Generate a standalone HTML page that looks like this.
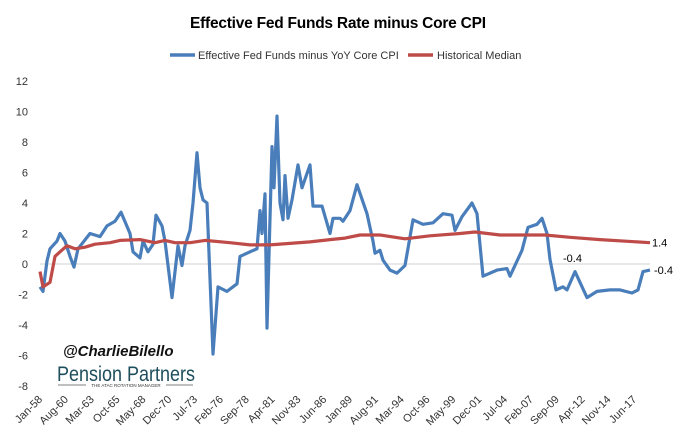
<!DOCTYPE html>
<html><head><meta charset="utf-8"><style>
body{margin:0;background:#fff;}
svg{display:block;font-family:"Liberation Sans",sans-serif;}
</style></head><body>
<svg id="chart" width="676" height="436">
<text x="338" y="28" text-anchor="middle" font-size="15.5" font-weight="bold" fill="#000" textLength="296">Effective Fed Funds Rate minus Core CPI</text>
<g>
<line x1="170" y1="55" x2="195" y2="55" stroke="#4a7ebb" stroke-width="3.5"/>
<text x="198" y="59" font-size="11" fill="#333">Effective Fed Funds minus YoY Core CPI</text>
<line x1="408" y1="55" x2="433" y2="55" stroke="#be4b48" stroke-width="3.5"/>
<text x="437" y="59" font-size="11" fill="#333">Historical Median</text>
</g>
<g id="yaxis"></g>
<g id="xaxis"></g>
<g id="plot"></g>
<text x="63" y="356" font-size="15" font-weight="bold" font-style="italic" fill="#111">@CharlieBilello</text>
<text x="57" y="381" font-size="21" fill="#1e4d5c" textLength="138" lengthAdjust="spacingAndGlyphs">Pension Partners</text>
<line x1="58" y1="385" x2="86" y2="385" stroke="#555" stroke-width="0.8"/>
<line x1="166" y1="385" x2="193" y2="385" stroke="#555" stroke-width="0.8"/>
<text x="126" y="387" font-size="4.5" text-anchor="middle" fill="#333">THE ATAC ROTATION MANAGER</text>
</svg>
<script>
const yTicks=[12,10,8,6,4,2,0,-2,-4,-6,-8];
const xLabels=["Jan-58","Aug-60","Mar-63","Oct-65","May-68","Dec-70","Jul-73","Feb-76","Sep-78","Apr-81","Nov-83","Jun-86","Jan-89","Aug-91","Mar-94","Oct-96","May-99","Dec-01","Jul-04","Feb-07","Sep-09","Apr-12","Nov-14","Jun-17"];
const spreadYears=[1958.0,1958.3,1958.7,1959.0,1959.7,1960.0,1960.5,1961.0,1961.4,1961.8,1963.0,1964.0,1964.7,1965.5,1966.1,1967.0,1967.3,1968.0,1968.3,1968.8,1969.3,1969.6,1970.2,1970.5,1971.2,1971.8,1972.2,1972.5,1973.0,1973.3,1973.7,1974.0,1974.3,1974.7,1975.3,1975.8,1976.7,1977.7,1978.0,1979.0,1979.7,1980.0,1980.2,1980.5,1980.7,1981.0,1981.2,1981.4,1981.7,1982.0,1982.3,1982.5,1982.8,1983.2,1983.8,1984.2,1985.0,1985.3,1986.2,1987.0,1987.3,1988.0,1988.3,1989.0,1989.7,1990.7,1991.3,1991.5,1992.0,1992.3,1993.0,1993.7,1994.5,1995.3,1996.3,1997.3,1998.3,1999.2,1999.5,2000.2,2001.2,2001.7,2002.3,2003.7,2004.7,2005.0,2006.2,2006.8,2007.7,2008.2,2008.7,2009.0,2009.6,2010.3,2010.7,2011.5,2012.7,2013.7,2015.0,2016.0,2017.2,2017.8,2018.3,2019.0];
const spreadValues=[-1.5,-1.8,0.2,1.0,1.5,2.0,1.5,0.5,-0.2,1.0,2.0,1.8,2.5,2.8,3.4,2.0,0.8,0.4,1.5,0.8,1.3,3.2,2.5,1.5,-2.2,1.2,-0.1,1.2,2.2,4.0,7.3,5.0,4.2,4.0,-5.9,-1.5,-1.8,-1.3,0.5,0.8,1.0,3.5,2.0,4.6,-4.2,3.0,7.7,5.0,9.7,4.0,2.9,5.8,3.0,4.2,6.5,5.0,6.5,3.8,3.8,2.0,3.0,3.0,2.8,3.5,5.2,3.3,1.5,0.7,0.9,0.25,-0.4,-0.6,-0.1,2.9,2.6,2.7,3.3,3.2,2.2,3.1,4.0,3.3,-0.8,-0.4,-0.3,-0.8,0.9,2.4,2.6,3.0,2.0,0.3,-1.7,-1.5,-1.7,-0.5,-2.2,-1.8,-1.7,-1.7,-1.9,-1.7,-0.5,-0.4];
const medianYears=[1958.0,1958.3,1959.0,1959.5,1960.0,1960.7,1961.5,1962.5,1963.5,1965.0,1966.0,1968.0,1969.5,1970.5,1971.5,1973.0,1974.5,1977.0,1979.0,1981.0,1983.0,1985.0,1987.0,1988.5,1990.0,1992.0,1994.5,1997.0,2000.0,2001.5,2004.0,2007.0,2008.5,2011.0,2014.0,2019.0];
const medianValues=[-0.5,-1.5,-1.2,0.5,0.8,1.2,1.0,1.1,1.3,1.4,1.55,1.6,1.4,1.55,1.4,1.4,1.55,1.4,1.25,1.25,1.35,1.45,1.6,1.7,1.9,1.9,1.65,1.85,2.0,2.1,1.9,1.9,1.9,1.75,1.6,1.4];
const labelPoints=[{year:2011.5,value:-0.4,text:"-0.4",dx:-12,dy:-8},{year:2019.0,value:-0.4,text:"-0.4",dx:4,dy:4},{year:2019.0,value:1.4,text:"1.4",dx:2,dy:4}];

const NS="http://www.w3.org/2000/svg";
const X0=40,PX_PER_YEAR=10,Y0=264,PX_PER_UNIT=15.25;
const xScale=y=>X0+(y-1958)*PX_PER_YEAR;
const yScale=v=>Y0-v*PX_PER_UNIT;
function mk(tag,parent){const e=document.createElementNS(NS,tag);parent.appendChild(e);return e;}
const yaxis=document.getElementById('yaxis'),xaxis=document.getElementById('xaxis'),plot=document.getElementById('plot');
yTicks.forEach(t=>{const e=mk('text',yaxis);


e.setAttribute('x',28);e.setAttribute('y',yScale(t)+4);e.setAttribute('text-anchor','end');e.setAttribute('font-size','11');e.setAttribute('fill','#333');e.textContent=t;});
const zl=mk('line',plot);


zl.setAttribute('x1',X0);zl.setAttribute('x2',xScale(2019));zl.setAttribute('y1',yScale(0));zl.setAttribute('y2',yScale(0));zl.setAttribute('stroke','#d0d0d0');
xLabels.forEach((l,i)=>{const yr=1958+i*31/12;const x=xScale(yr)+3,y=400;const e=mk('text',xaxis);


e.setAttribute('x',x);e.setAttribute('y',y);e.setAttribute('text-anchor','end');e.setAttribute('font-size','11');e.setAttribute('fill','#333');e.setAttribute('transform',`rotate(-45 ${x} ${y})`);e.textContent=l;});
function line(years,vals,color,name){const p=mk('polyline',plot);


p.setAttribute('points',years.map((y,i)=>xScale(y).toFixed(1)+','+yScale(vals[i]).toFixed(1)).join(' '));p.setAttribute('fill','none');p.setAttribute('stroke',color);p.setAttribute('stroke-width','3.2');p.setAttribute('stroke-linejoin','round');}
line(spreadYears,spreadValues,'#4a7ebb','fed-funds-spread-line');
line(medianYears,medianValues,'#be4b48','historical-median-line');
labelPoints.forEach(d=>{const e=mk('text',plot);


e.setAttribute('x',xScale(d.year)+d.dx);e.setAttribute('y',yScale(d.value)+d.dy);e.setAttribute('font-size','11');e.setAttribute('fill','#000');e.textContent=d.text;});
</script>
</body></html>
